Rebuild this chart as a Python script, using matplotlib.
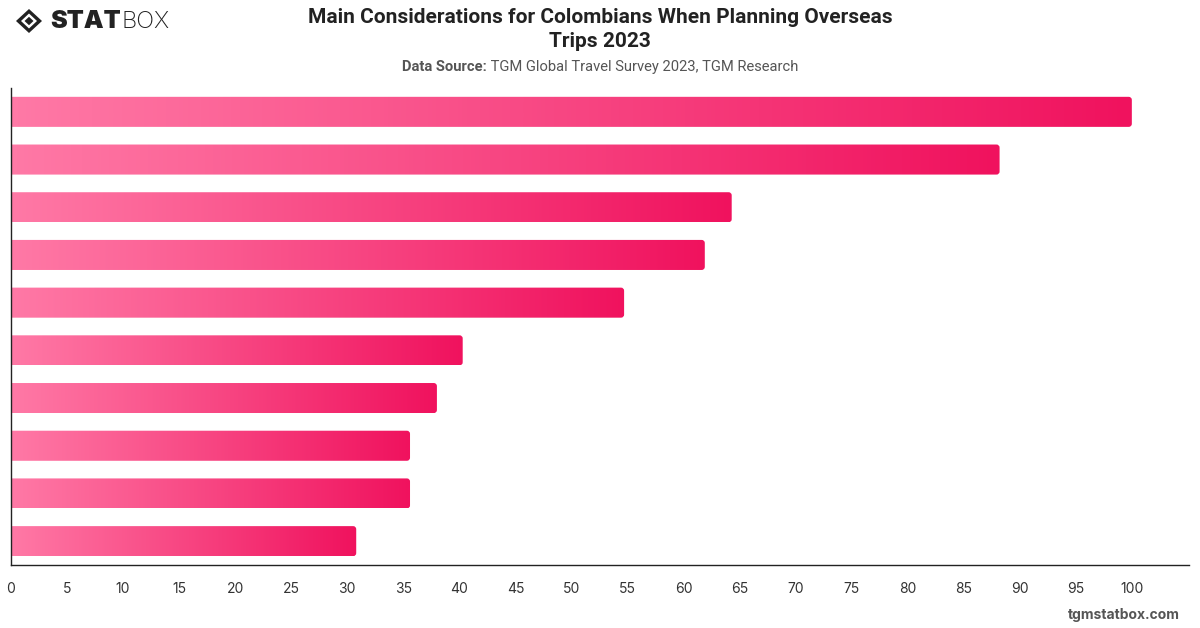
import matplotlib
matplotlib.use("Agg")
import matplotlib.pyplot as plt
import numpy as np
from matplotlib.patches import FancyBboxPatch, Polygon
from matplotlib.colors import LinearSegmentedColormap
import matplotlib.transforms as mtrans

# ---- data (category names are not shown in the chart) ----
categories = ["Item 1", "Item 2", "Item 3", "Item 4", "Item 5",
              "Item 6", "Item 7", "Item 8", "Item 9", "Item 10"]
values = [100, 88.2, 64.3, 61.9, 54.7, 40.3, 38.0, 35.6, 35.6, 30.8]
x_ticks = list(range(0, 101, 5))

title = "Main Considerations for Colombians When Planning Overseas\nTrips 2023"
source_bold = "Data Source:"
source_text = " TGM Global Travel Survey 2023, TGM Research"

W, H = 1200, 628
fig = plt.figure(figsize=(W / 100, H / 100), dpi=100)
fig.patch.set_facecolor("white")

ax = fig.add_axes([11 / W, 1 - 565 / H, (1189 - 11) / W, (565 - 88) / H])
ypos = np.arange(len(values))

bar_h = 0.63
bars = ax.barh(ypos, values, height=bar_h, color="none", edgecolor="none")

cmap = LinearSegmentedColormap.from_list("pinkgrad", ["#FF79A6", "#F0125E"])
grad = np.linspace(0, 1, 256).reshape(1, -1)

rx = 0.28
ry = 0.065
for rect in bars:
    x0 = rect.get_x()
    y0 = rect.get_y()
    w = rect.get_width()
    h = rect.get_height()
    start = x0 - 1.0
    patch = FancyBboxPatch((start, y0), w - start + x0, h,
                           boxstyle=f"round,pad=0,rounding_size={rx}",
                           mutation_aspect=ry / rx,
                           facecolor="none", edgecolor="none",
                           transform=ax.transData)
    ax.add_patch(patch)
    im = ax.imshow(grad, cmap=cmap, aspect="auto",
                   extent=(x0, x0 + w, y0 + h, y0),
                   interpolation="bilinear", zorder=2)
    im.set_clip_path(patch)

ax.set_xlim(0, 105.1)
ax.set_ylim(len(values) - 0.5, -0.5)

ax.set_xticks(x_ticks)
ax.set_xticklabels([str(t) for t in x_ticks], fontsize=10, color="#333333",
                   family="Inter")
ax.tick_params(axis="x", length=0, pad=12)
ax.set_yticks([])
for s in ["top", "right"]:
    ax.spines[s].set_visible(False)
for s in ["left", "bottom"]:
    ax.spines[s].set_color("#222222")
    ax.spines[s].set_linewidth(1.0)

# ---- title & subtitle ----
fig.text(600 / W, 1 - 29.5 / H, title, ha="center", va="center",
         fontsize=15, fontweight="bold", color="#222222", family="Roboto",
         linespacing=1.27)

t1 = fig.text(0, 0, source_bold, fontsize=10.6, fontweight="bold",
              color="#555555", family="Roboto")
t2 = fig.text(0, 0, source_text, fontsize=10.6, color="#555555", family="Roboto")
fig.canvas.draw()
r = fig.canvas.get_renderer()
w1 = t1.get_window_extent(r).width
w2 = t2.get_window_extent(r).width
xs = 600 - (w1 + w2) / 2
t1.set_position((xs / W, 1 - 67 / H))
t1.set_va("center")
t2.set_position(((xs + w1) / W, 1 - 67 / H))
t2.set_va("center")

# ---- footer ----
fig.text(1180 / W, 1 - 615 / H, "tgmstatbox.com", ha="right", va="center",
         fontsize=10, fontweight="bold", color="#555555", family="Inter")

# ---- logo ----
lax = fig.add_axes([0, 1 - 40 / H, 180 / W, 40 / H])
lax.set_xlim(0, 180)
lax.set_ylim(40, 0)
lax.axis("off")
cx, cy = 29, 21
outer = Polygon([(cx - 13, cy), (cx, cy - 12), (cx + 13, cy), (cx, cy + 12)],
                closed=True, facecolor="#222222", edgecolor="none")
inner = Polygon([(cx - 8, cy), (cx, cy - 7.5), (cx + 8, cy), (cx, cy + 7.5)],
                closed=True, facecolor="white", edgecolor="none")
core = Polygon([(cx - 4.5, cy), (cx, cy - 4.2), (cx + 4.5, cy), (cx, cy + 4.2)],
               closed=True, facecolor="#222222", edgecolor="none")
for p in (outer, inner, core):
    lax.add_patch(p)
ts = lax.text(50, 22, "STAT", fontsize=18, fontweight="black", color="#222222",
              family="Inter", va="center", ha="left")
fig.canvas.draw()
bb = ts.get_window_extent(fig.canvas.get_renderer())
lax.text(bb.x1 + 1, 22, "BOX", fontsize=17, fontweight="light", color="#222222",
         family="Inter", va="center", ha="left",
         transform=mtrans.blended_transform_factory(
             mtrans.IdentityTransform(), lax.transData))

fig.savefig("out.png", dpi=100, facecolor="white")
